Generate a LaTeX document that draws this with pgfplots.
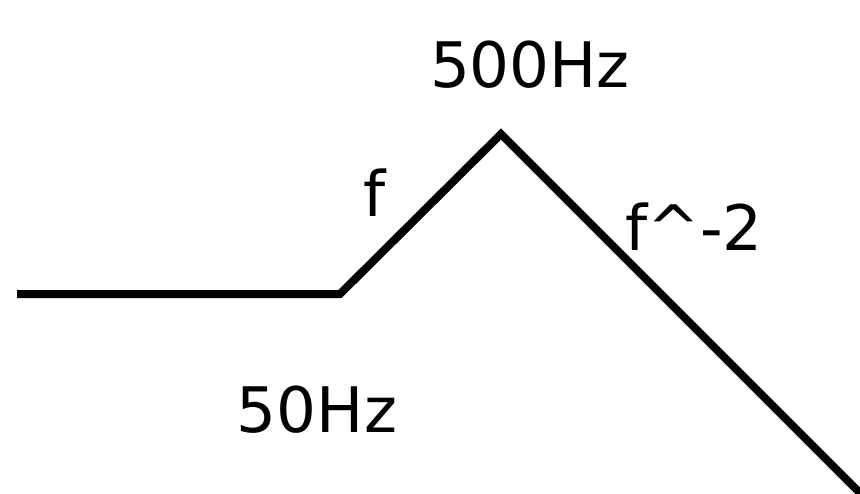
\documentclass[border=0pt]{standalone}
\usepackage{pgfplots}
\pgfplotsset{compat=1.18}
\usepackage{fontspec}
\setmainfont{DejaVu Sans}
\begin{document}
\begin{tikzpicture}
\begin{axis}[
  width=860bp, height=493bp, scale only axis,
  xmin=0, xmax=860, ymin=0, ymax=493, y dir=reverse,
  hide axis, clip=true,
]
\addplot[black, line width=8bp, line join=miter, line cap=butt] coordinates {
  (17,294) (340,294) (501,134) (870,503)
};
\node[inner sep=0, font=\fontsize{63}{75}\selectfont] at (axis cs:530,65) {500Hz};
\node[inner sep=0, font=\fontsize{63}{75}\selectfont] at (axis cs:317,410) {50Hz};
\node[inner sep=0, font=\fontsize{63}{75}\selectfont] at (axis cs:375,193) {f};
\node[inner sep=0, font=\fontsize{63}{75}\selectfont] at (axis cs:694,227) {f\^{}-2};
\end{axis}
\path (current axis.south west) rectangle (current axis.north east);
\end{tikzpicture}
\end{document}
